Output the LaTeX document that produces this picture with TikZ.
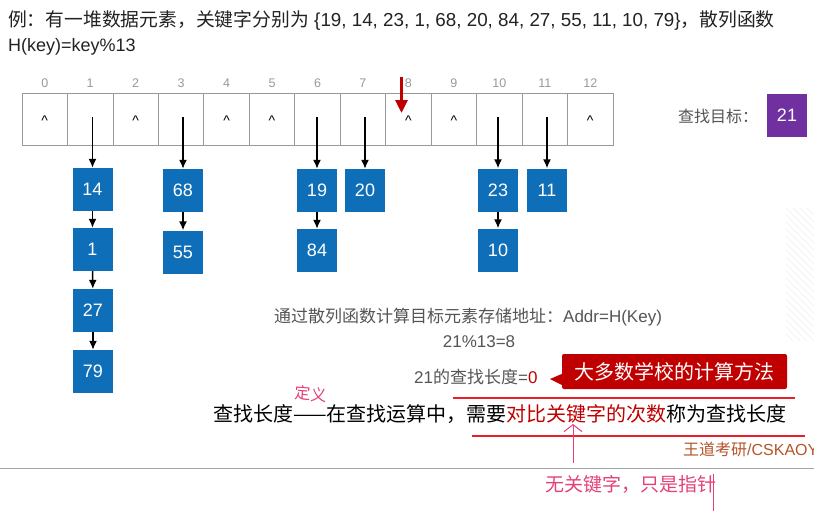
\documentclass[tikz,border=0pt]{standalone}
\usepackage{fontspec}
\setmainfont{Noto Sans CJK SC}
\newfontfamily\lat{Liberation Sans}
\usetikzlibrary{arrows.meta}
\definecolor{kblue}{HTML}{0E6EB8}
\definecolor{kpurple}{HTML}{7030A0}
\definecolor{dred}{HTML}{C00000}
\definecolor{redline}{HTML}{E8202A}
\definecolor{pinkc}{HTML}{E5407A}
\definecolor{brownc}{HTML}{B4552A}
\definecolor{midgray}{HTML}{555555}
\definecolor{idxgray}{HTML}{999999}
\definecolor{titlec}{HTML}{222222}
\newcommand{\fsz}[1]{\fontsize{#1}{#1}\selectfont}
\tikzset{
  cell/.style={draw=idxgray, line width=0.8pt, minimum width=45.46pt, minimum height=52pt, inner sep=0pt},
  idx/.style={text=idxgray, font=\lat\fsz{12.5}, inner sep=0pt},
  hat/.style={font=\lat\fsz{14}, inner sep=0pt},
  kbox/.style={fill=kblue, text=white, minimum width=40pt, minimum height=43pt, inner sep=0pt, font=\lat\fsz{18}},
  pbox/.style={fill=kpurple, text=white, minimum width=40pt, minimum height=43pt, inner sep=0pt, font=\lat\fsz{18}},
  link/.style={-{Latex[length=9pt,width=8pt]}, line width=1.5pt},
  callbox/.style={fill=dred, text=white, minimum width=225pt, minimum height=35pt, inner sep=0pt, rounded corners=2pt, font=\fsz{20}},
  redrule/.style={draw=redline, line width=1.5pt},
  hand/.style={text=pinkc, inner sep=0pt},
}
\begin{document}
\begin{tikzpicture}[x=1pt,y=-1pt]
\useasboundingbox (0,0) rectangle (814,511);
\fill[white] (0,0) rectangle (814,511);

% faint hatching on the right edge
\begin{scope}
\clip (786,208) rectangle (814,340);
\foreach \k in {0,...,34} \draw[gray!9, line width=1pt] (770,{150+\k*7}) -- (840,{220+\k*7});
\end{scope}

% title
\node[anchor=west, text=titlec, font=\fsz{18.8}, inner sep=0pt] (t1) at (8,20) {例：有一堆数据元素，关键字分别为{\lat\ \{19, 14, 23, 1, 68, 20, 84, 27, 55, 11, 10, 79\}}，散列函数};
\node[anchor=west, text=titlec, font=\lat\fsz{18}, inner sep=0pt] (t2) at (8,47) {H(key)=key\%13};

% hash table
\foreach \i in {0,...,12} {
  \node[cell] (c\i) at ({22+45.46*(\i+0.5)},119) {};
  \node[idx] (n\i) at ({22+45.46*(\i+0.5)},83) {\i};
}
\foreach \i in {0,2,4,5,8,9,12} \node[hat] (h\i) at ({22+45.46*(\i+0.5)},120.5) {\textasciicircum};

% key nodes
\node[kbox] (k14) at (92.5,189.5) {14};
\node[kbox] (k1)  at (92.5,249.5) {1};
\node[kbox] (k27) at (93,310.5) {27};
\node[kbox] (k79) at (93,371.5) {79};
\node[kbox] (k68) at (183,190.5) {68};
\node[kbox] (k55) at (183,252) {55};
\node[kbox] (k19) at (317,190.5) {19};
\node[kbox] (k84) at (317,250.5) {84};
\node[kbox] (k20) at (365,190.5) {20};
\node[kbox] (k23) at (498,190) {23};
\node[kbox] (k10) at (498,250) {10};
\node[kbox] (k11) at (547,190) {11};

\draw[link] ([yshift=2pt]k14.north |- c1.center) -- (k14.north);
\draw[link] ([yshift=2pt]k68.north |- c3.center) -- (k68.north);
\draw[link] ([yshift=2pt]k19.north |- c6.center) -- (k19.north);
\draw[link] ([yshift=2pt]k20.north |- c7.center) -- (k20.north);
\draw[link] ([yshift=2pt]k23.north |- c10.center) -- (k23.north);
\draw[link] ([yshift=2pt]k11.north |- c11.center) -- (k11.north);
\draw[link] (k14) -- (k1);
\draw[link] (k1) -- (k27);
\draw[link] (k27) -- (k79);
\draw[link] (k68) -- (k55);
\draw[link] (k19) -- (k84);
\draw[link] (k23) -- (k10);

% red pointer to slot 8
\coordinate (rtop) at (401.5,77);
\coordinate (rtip) at (401.5,113);
\draw[dred, line width=3pt, -{Triangle[length=13pt,width=12pt]}] (rtop) -- (rtip);

% target
\node[anchor=west, text=midgray, font=\fsz{16}, inner sep=0pt] (tl) at (678,116) {查找目标：};
\node[pbox] (target) at (787,115.5) {21};

% computation text
\node[anchor=west, text=midgray, font=\fsz{17}, inner sep=0pt] (m1) at (274,317) {通过散列函数计算目标元素存储地址：{\lat Addr=H(Key)}};
\node[text=midgray, font=\lat\fsz{17}, inner sep=0pt] (m2) at (479,342) {21\%13=8};
\node[anchor=west, text=midgray, font=\fsz{17}, inner sep=0pt] (m3) at (414,377) {{\lat 21}的查找长度{\lat =\textcolor{dred}{0}}};

% callout
\node[callbox] (call) at (674.5,371.5) {大多数学校的计算方法};
\coordinate (ctip) at (550,379);
\coordinate (cp1) at (564,373);
\coordinate (cp2) at (564,386);
\fill[dred] (cp1) -- (ctip) -- (cp2) -- cycle;

% definition line
\node[anchor=west, text=black, font=\fsz{20}, inner sep=0pt] (b1) at (213,414) {查找长度——在查找运算中，需要\textcolor{dred}{对比关键字的次数}称为查找长度};
\draw[redrule] (453,398) -- (795,398);
\draw[redrule] (472,436) -- (805,436);

% watermark
\node[anchor=west, text=brownc, font=\fsz{16}, inner sep=0pt] (wm) at (683,449) {王道考研{\lat /CSKAOY}};

% separator
\draw[gray!70, line width=0.9pt] (0,468) -- (814,468);

% handwritten notes
\node[hand, font=\fsz{16}, rotate=-4] (hw1) at (311,394) {定义};
\node[hand, font=\fsz{19}] (hw2) at (631,484) {无关键字，只是指针};
\coordinate (pa1) at (573,463);
\coordinate (pa2) at (573,424);
\draw[pinkc, line width=1pt, -{Straight Barb[length=7pt,width=18pt]}] (pa1) -- (pa2);
\coordinate (st1) at (713,474);
\coordinate (st2) at (713,511);
\draw[pinkc, line width=1pt] (st1) -- (st2);
\end{tikzpicture}
\end{document}
